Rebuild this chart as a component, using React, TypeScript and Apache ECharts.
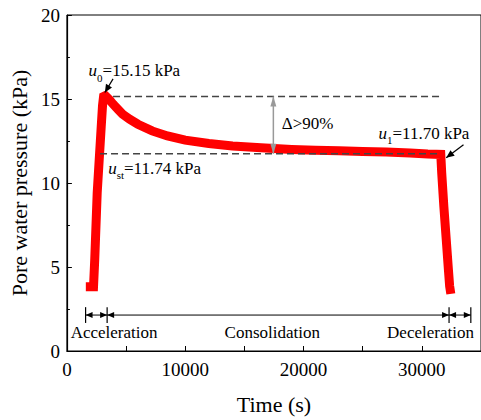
import React, { useEffect, useRef } from "react";
import * as echarts from "echarts";

const FONT = "Liberation Serif";

const TIME = [1600, 2250, 2350, 2560, 2900, 3010, 3100, 3250, 3400, 3600, 3900, 4300, 4700, 5300, 6000, 7200, 8500, 10000, 12000, 14000, 16400, 19000, 21000, 23000, 25000, 27000, 29000, 30500, 31600, 31680, 31860, 32060, 32250, 32350, 32450];
const PWP = [3.83, 3.83, 5.4, 9.4, 13.35, 14.6, 15.15, 15.2, 15.1, 14.95, 14.7, 14.4, 14.1, 13.8, 13.5, 13.1, 12.8, 12.55, 12.35, 12.2, 12.1, 12.0, 11.95, 11.92, 11.88, 11.85, 11.78, 11.72, 11.7, 10.6, 8.6, 6.65, 4.8, 3.86, 3.4];

const X_RANGE = [0, 35000];
const X_INTERVAL = 10000;
const Y_RANGE = [0, 20];
const Y_INTERVAL = 5;

const U0 = 15.15;
const UST = 11.74;
const U0_LINE = [3900, 31560];
const UST_LINE = [2800, 31560];
const DELTA_T = 17450;

const STAGE_BOUNDS = [1580, 3400, 32300, 34140];
const STAGE_LEVEL = 2.14;
const STAGE_BAR = 0.47;
const STAGE_NAMES = ["Acceleration", "Consolidation", "Deceleration"];
const STAGE_LABEL_T = [3990, 17360, 30730];
const STAGE_LABEL_V = 1.0;

export default function App() {
  const ref = useRef<HTMLDivElement>(null);
  useEffect(() => {
    if (!ref.current) return;
    const chart = echarts.init(ref.current, undefined, { renderer: "svg" });
    chart.setOption({
      animation: false,
      textStyle: { fontFamily: FONT, color: "#000" },
      grid: { left: 63, top: 15, width: 421.4, height: 337, show: true, borderColor: "#000", borderWidth: 1 },
      xAxis: {
        type: "value",
        min: X_RANGE[0],
        max: X_RANGE[1],
        interval: X_INTERVAL,
        name: "Time (s)",
        nameLocation: "middle",
        nameGap: 42,
        nameTextStyle: { fontFamily: FONT, fontSize: 22, color: "#000" },
        axisLine: { lineStyle: { color: "#000", width: 1.2 } },
        axisTick: { inside: true, length: 5, lineStyle: { color: "#000" } },
        minorTick: { show: true, splitNumber: 2, length: 5, lineStyle: { color: "#000" } },
        splitLine: { show: false },
        axisLabel: { fontFamily: FONT, fontSize: 19, color: "#000", margin: 9, showMaxLabel: false, formatter: (v: number) => String(v) },
      },
      yAxis: {
        type: "value",
        min: Y_RANGE[0],
        max: Y_RANGE[1],
        interval: Y_INTERVAL,
        name: "Pore water pressure (kPa)",
        nameLocation: "middle",
        nameGap: 34,
        nameTextStyle: { fontFamily: FONT, fontSize: 22, color: "#000" },
        axisLine: { show: true, lineStyle: { color: "#000", width: 1.2 } },
        axisTick: { inside: true, length: 5, lineStyle: { color: "#000" } },
        minorTick: { show: true, splitNumber: 2, length: 3, lineStyle: { color: "#000" } },
        splitLine: { show: false },
        axisLabel: { fontFamily: FONT, fontSize: 19, color: "#000", margin: 7, formatter: (v: number) => String(v) },
      },
      series: [
        {
          type: "line",
          data: TIME.map((t, i) => [t, PWP[i]]),
          showSymbol: false,
          symbol: "none",
          lineStyle: { color: "#ff0000", width: 9, join: "miter", cap: "butt" },
          z: 2,
        },
      ],
    });

    const px = (t: number, v: number) => chart.convertToPixel({ gridIndex: 0 }, [t, v]) as number[];
    const head = (tip: number[], from: number[], len: number, half: number, color: string) => {
      const dx = tip[0] - from[0];
      const dy = tip[1] - from[1];
      const d = Math.hypot(dx, dy);
      const ux = dx / d;
      const uy = dy / d;
      const bx = tip[0] - ux * len;
      const by = tip[1] - uy * len;
      return {
        type: "polygon",
        z: 100,
        silent: true,
        shape: { points: [[tip[0], tip[1]], [bx - uy * half, by + ux * half], [bx + uy * half, by - ux * half]] },
        style: { fill: color },
      };
    };
    const line = (a: number[], b: number[], style: any) => ({
      type: "line",
      z: 100,
      silent: true,
      shape: { x1: a[0], y1: a[1], x2: b[0], y2: b[1] },
      style,
    });
    const arrow = (a: number[], b: number[], both: boolean, len: number, half: number, color: string, width: number) => {
      const els: any[] = [line(a, b, { stroke: color, lineWidth: width })];
      els.push(head(b, a, len, half, color));
      if (both) els.push(head(a, b, len, half, color));
      return els;
    };
    const rich = {
      i: { fontFamily: FONT, fontStyle: "italic", fontSize: 17, lineHeight: 20, verticalAlign: "top", fill: "#000" },
      s: { fontFamily: FONT, fontSize: 11, lineHeight: 11, padding: [10, 0, 0, 0], verticalAlign: "top", fill: "#000" },
      n: { fontFamily: FONT, fontSize: 17, lineHeight: 20, verticalAlign: "top", fill: "#000" },
    };
    const txt = (p: number[], text: string, align = "left") => ({
      type: "text",
      z: 100,
      silent: true,
      x: p[0],
      y: p[1],
      style: { text, rich, align, verticalAlign: "middle", fill: "#000", fontFamily: FONT, fontSize: 17 },
    });

    const g: any[] = [];
    const dash = { stroke: "#444", lineWidth: 1.4, lineDash: [7, 4] };
    g.push(line(px(U0_LINE[0], U0), px(U0_LINE[1], U0), dash));
    g.push(line(px(UST_LINE[0], UST), px(UST_LINE[1], UST), dash));
    g.push(...arrow(px(DELTA_T, U0), px(DELTA_T, UST), true, 10, 3, "#999", 1.5));
    g.push(...arrow(px(3900, 16.2), px(3210, 15.39), false, 8, 3.5, "#000", 1.2));
    g.push(...arrow(px(33520, 12.28), px(32060, 11.5), false, 8, 3.5, "#000", 1.2));
    g.push(txt(px(1830, 16.6), "{i|u}{s|0}{n|=15.15 kPa}"));
    g.push(txt(px(3490, 10.8), "{i|u}{s|st}{n|=11.74 kPa}"));
    g.push(txt(px(18160, 13.47), "{n|Δ>90%}"));
    g.push(txt(px(26330, 12.88), "{i|u}{s|1}{n|=11.70 kPa}"));

    for (let k = 0; k < STAGE_BOUNDS.length - 1; k++) {
      g.push(...arrow(px(STAGE_BOUNDS[k], STAGE_LEVEL), px(STAGE_BOUNDS[k + 1], STAGE_LEVEL), true, 7, 3, "#000", 1));
    }
    STAGE_BOUNDS.forEach((t) => {
      g.push(line(px(t, STAGE_LEVEL + STAGE_BAR), px(t, STAGE_LEVEL - STAGE_BAR), { stroke: "#000", lineWidth: 1.2 }));
    });
    STAGE_NAMES.forEach((n, k) => {
      g.push(txt(px(STAGE_LABEL_T[k], STAGE_LABEL_V), `{n|${n}}`, "center"));
    });
    chart.setOption({ graphic: g });

    return () => chart.dispose();
  }, []);
  return <div ref={ref} style={{ position: "absolute", left: 0, top: 0, width: 481, height: 420 }} />;
}
